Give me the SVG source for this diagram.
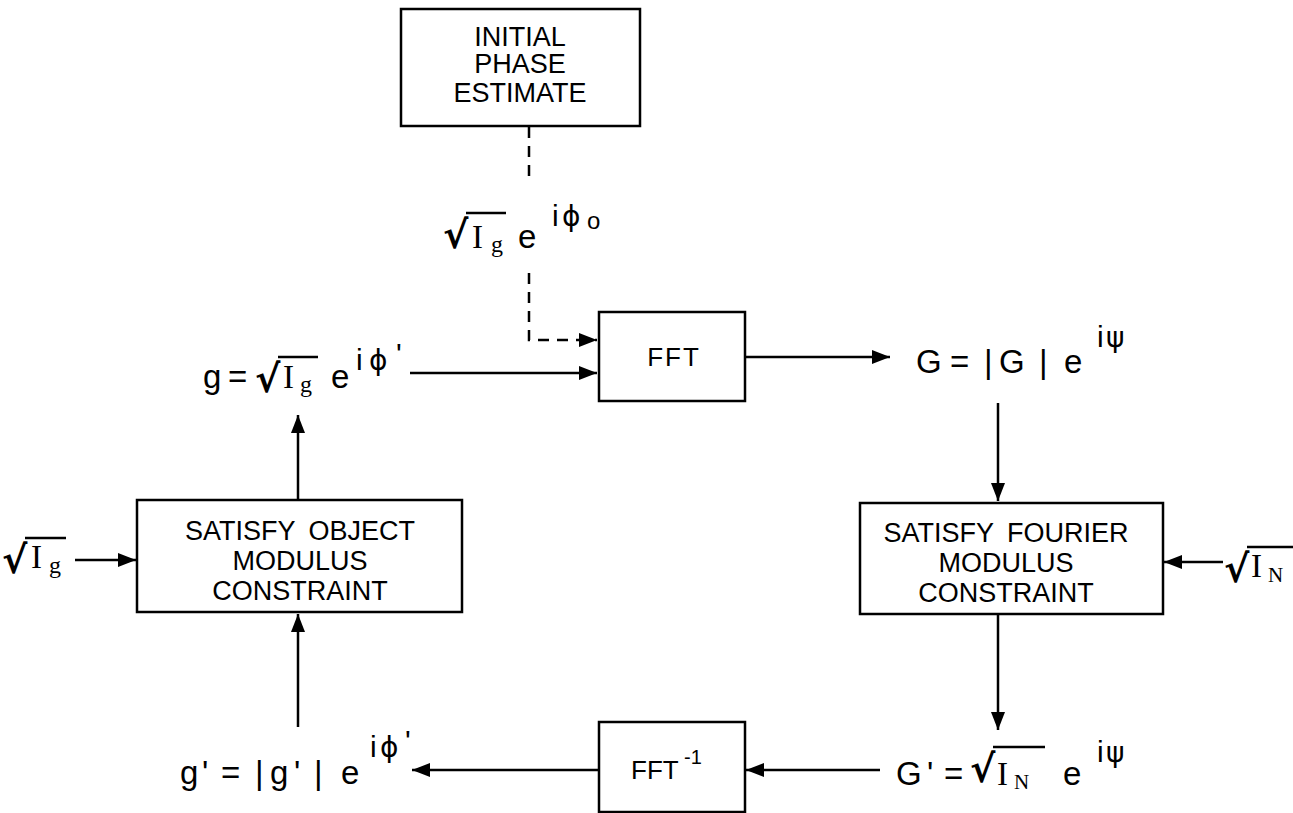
<svg xmlns="http://www.w3.org/2000/svg" width="1293" height="813" viewBox="0 0 1293 813">
<style>
.box{fill:#fff;stroke:#000;stroke-width:2.5}
.bt{font-family:"Liberation Sans",Arial,sans-serif;font-size:27px;text-anchor:middle;fill:#000;word-spacing:6px}
.ft{font-family:"Liberation Sans",Arial,sans-serif;font-size:26px;fill:#000}
.ln{stroke:#000;stroke-width:2.5;fill:none}
.dash{stroke-dasharray:11,8}
.m{font-family:"Liberation Sans","DejaVu Sans",Arial,sans-serif;font-size:33px;fill:#000}
.sup{font-family:"Liberation Sans","DejaVu Sans",Arial,sans-serif;font-size:30px;fill:#000}
.gr{font-family:"DejaVu Sans",sans-serif;font-size:28px;fill:#000}
.rad{font-family:"DejaVu Sans",sans-serif;font-size:38px;font-weight:bold;fill:#000}
.s{font-family:"Liberation Serif","Times New Roman",serif;fill:#000}
.vin{stroke:#000;stroke-width:2.5}
</style>
<defs>
<marker id="ah" markerWidth="20" markerHeight="14" refX="18" refY="7" orient="auto" markerUnits="userSpaceOnUse"><path d="M0,0 L18,7 L0,14 Z" fill="#000"/></marker>
</defs>

<g id="connectors">
<path class="ln dash" d="M529,127 V184"/>
<path class="ln dash" d="M529,273 V340 H597" marker-end="url(#ah)"/>
<path class="ln" d="M410,373 H597" marker-end="url(#ah)"/>
<path class="ln" d="M745,357 H890" marker-end="url(#ah)"/>
<path class="ln" d="M998,403 V501" marker-end="url(#ah)"/>
<path class="ln" d="M1223,562 H1164" marker-end="url(#ah)"/>
<path class="ln" d="M998,614 V730" marker-end="url(#ah)"/>
<path class="ln" d="M880,770 H746" marker-end="url(#ah)"/>
<path class="ln" d="M599,770 H412" marker-end="url(#ah)"/>
<path class="ln" d="M298,727 V614" marker-end="url(#ah)"/>
<path class="ln" d="M298,500 V415" marker-end="url(#ah)"/>
<path class="ln" d="M75,560 H136" marker-end="url(#ah)"/>
</g>

<g id="initial">
<rect class="box" x="401" y="9" width="239" height="117"/>
<text class="bt" x="520" y="46">INITIAL</text>
<text class="bt" x="520" y="73">PHASE</text>
<text class="bt" x="520" y="102">ESTIMATE</text>
</g>

<g id="fft">
<rect class="box" x="599" y="312" width="146" height="89"/>
<text class="ft" x="674" y="366" style="text-anchor:middle;letter-spacing:2px">FFT</text>
</g>

<g id="fourier">
<rect class="box" x="860" y="503" width="303" height="111"/>
<text class="bt" x="1006" y="542">SATISFY FOURIER</text>
<text class="bt" x="1006" y="572">MODULUS</text>
<text class="bt" x="1006" y="602">CONSTRAINT</text>
</g>

<g id="object">
<rect class="box" x="137" y="500" width="325" height="112"/>
<text class="bt" x="300" y="540">SATISFY OBJECT</text>
<text class="bt" x="300" y="570">MODULUS</text>
<text class="bt" x="300" y="600">CONSTRAINT</text>
</g>

<g id="ifft">
<rect class="box" x="599" y="722" width="146" height="90"/>
<text class="ft" x="631" y="779">FFT</text>
<text class="ft" x="684" y="764" style="font-size:20px">-1</text>
</g>

<g id="label-init">
<text class="rad" x="443" y="248">√</text>
<line class="vin" x1="466" y1="213" x2="506" y2="213"/>
<text class="s" x="472" y="248" font-size="33">I</text>
<text class="s" x="491" y="252" font-size="24">g</text>
<text class="m" x="518" y="248">e</text>
<text class="sup" x="552" y="226">i</text>
<text class="gr" x="562" y="226">ϕ</text>
<text class="sup" x="587" y="229" style="font-size:24px">o</text>
</g>

<g id="label-g">
<text class="m" x="203" y="388">g</text>
<text class="m" x="228" y="388">=</text>
<text class="rad" x="255" y="392">√</text>
<line class="vin" x1="278" y1="357" x2="318" y2="357"/>
<text class="s" x="283" y="388" font-size="33">I</text>
<text class="s" x="300" y="392" font-size="24">g</text>
<text class="m" x="331" y="388">e</text>
<text class="sup" x="356" y="370">i</text>
<text class="gr" x="369" y="370">ϕ</text>
<text class="sup" x="396" y="364">'</text>
</g>

<g id="label-G">
<text class="m" x="916" y="373">G</text>
<text class="m" x="950" y="373">=</text>
<text class="m" x="984" y="373">|</text>
<text class="m" x="999" y="373">G</text>
<text class="m" x="1039" y="373">|</text>
<text class="m" x="1064" y="373">e</text>
<text class="sup" x="1097" y="347">i</text>
<text class="gr" x="1106" y="347">ψ</text>
</g>

<g id="label-gp">
<text class="m" x="180" y="784">g</text>
<text class="m" x="202" y="784">'</text>
<text class="m" x="221" y="784">=</text>
<text class="m" x="255" y="784">|</text>
<text class="m" x="270" y="784">g</text>
<text class="m" x="294" y="784">'</text>
<text class="m" x="314" y="784">|</text>
<text class="m" x="341" y="784">e</text>
<text class="sup" x="370" y="757">i</text>
<text class="gr" x="380" y="757">ϕ</text>
<text class="sup" x="405" y="751">'</text>
</g>

<g id="label-Gp">
<text class="m" x="896" y="785">G</text>
<text class="m" x="927" y="785">'</text>
<text class="m" x="944" y="785">=</text>
<text class="rad" x="970" y="782">√</text>
<line class="vin" x1="993" y1="747" x2="1045" y2="747"/>
<text class="s" x="997" y="785" font-size="33">I</text>
<text class="s" x="1014" y="789" font-size="21">N</text>
<text class="m" x="1063" y="785">e</text>
<text class="sup" x="1097" y="762">i</text>
<text class="gr" x="1106" y="762">ψ</text>
</g>

<g id="label-Ig-left">
<text class="rad" x="2" y="573">√</text>
<line class="vin" x1="25" y1="538" x2="66" y2="538"/>
<text class="s" x="31" y="568" font-size="33">I</text>
<text class="s" x="49" y="573" font-size="24">g</text>
</g>

<g id="label-IN-right">
<text class="rad" x="1224" y="582">√</text>
<line class="vin" x1="1247" y1="547" x2="1293" y2="547"/>
<text class="s" x="1251" y="577" font-size="33">I</text>
<text class="s" x="1268" y="582" font-size="21">N</text>
</g>
</svg>
